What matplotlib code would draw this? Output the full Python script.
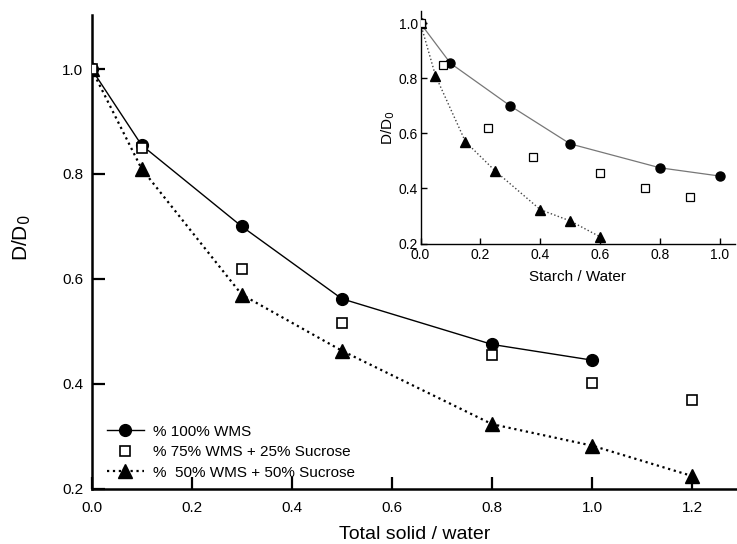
import matplotlib
matplotlib.use("Agg")
import matplotlib.pyplot as plt

plt.rcParams['font.family'] = ['Liberation Sans', 'DejaVu Sans']

# Main plot data (Total solid / water)
x_wms100 = [0.0, 0.1, 0.3, 0.5, 0.8, 1.0]
y_wms100 = [1.0, 0.855, 0.70, 0.562, 0.475, 0.445]

x_wms75 = [0.0, 0.1, 0.3, 0.5, 0.8, 1.0, 1.2]
y_wms75 = [1.0, 0.850, 0.619, 0.515, 0.455, 0.402, 0.370]

x_wms50 = [0.0, 0.1, 0.3, 0.5, 0.8, 1.0, 1.2]
y_wms50 = [1.0, 0.810, 0.570, 0.463, 0.323, 0.282, 0.224]

# Inset data (Starch / Water)
xs_wms100 = [0.0, 0.1, 0.3, 0.5, 0.8, 1.0]
xs_wms75 = [0.0, 0.075, 0.225, 0.375, 0.6, 0.75, 0.9]
xs_wms50 = [0.0, 0.05, 0.15, 0.25, 0.4, 0.5, 0.6]

labels = ["% 100% WMS", "% 75% WMS + 25% Sucrose", "%  50% WMS + 50% Sucrose"]
xticks_main = [0.0, 0.2, 0.4, 0.6, 0.8, 1.0, 1.2]
yticks_main = [0.2, 0.4, 0.6, 0.8, 1.0]
xticks_inset = [0.0, 0.2, 0.4, 0.6, 0.8, 1.0]

W, H = 737, 544
fig = plt.figure(figsize=(W / 100, H / 100), dpi=100)

# main axes in pixel coordinates
l, r, b, t = 91.5, 737, 488.7, 15
ax = fig.add_axes([l / W, 1 - b / H, (r - l) / W, (b - t) / H])

ax.plot(x_wms100, y_wms100, '-', color='black', lw=1.0, marker='o', ms=8.5,
        mfc='black', mec='black', label=labels[0], zorder=3)
ax.plot(x_wms75, y_wms75, 'none', marker='s', ms=7.5, mfc='white', mec='black',
        mew=1.2, label=labels[1], zorder=4)
ax.plot(x_wms50, y_wms50, ':', color='black', lw=1.6, marker='^', ms=9.5,
        mfc='black', mec='black', label=labels[2], zorder=3)

ax.set_xlim(0, 1.289)
ax.set_ylim(0.2, 1.103)
ax.set_xticks(xticks_main)
ax.set_yticks(yticks_main)
ax.set_xticklabels([f"{v:.1f}" for v in xticks_main])
ax.set_yticklabels([f"{v:.1f}" for v in yticks_main])
for s in ['top', 'right']:
    ax.spines[s].set_visible(False)
for s in ['left', 'bottom']:
    ax.spines[s].set_linewidth(1.8)
ax.tick_params(direction='in', length=9, width=1.6, labelsize=11)
ax.tick_params(axis='x', pad=9)
ax.tick_params(axis='y', pad=6)
ax.set_xlabel("Total solid / water", fontsize=14, labelpad=8)
ax.set_ylabel("D/D$_0$", fontsize=15)
ax.yaxis.set_label_coords(-0.09, 0.53)

leg = ax.legend(loc='lower left', bbox_to_anchor=(0.01, 0.0), frameon=False,
                fontsize=11, handlelength=2.4, handletextpad=0.6,
                labelspacing=0.42, borderaxespad=0.2)

# inset axes
il, ir, ib, it = 420.5, 735, 243.5, 11
ax2 = fig.add_axes([il / W, 1 - ib / H, (ir - il) / W, (ib - it) / H])
ax2.plot(xs_wms100, y_wms100, '-', color='#777777', lw=0.9, zorder=2)
ax2.plot(xs_wms100, y_wms100, 'none', marker='o', ms=6.5, mfc='black', mec='black', zorder=3)
ax2.plot(xs_wms75, y_wms75, 'none', marker='s', ms=5.5, mfc='white', mec='black',
         mew=0.9, zorder=4)
ax2.plot(xs_wms50, y_wms50, ':', color='#444444', lw=1.0, zorder=2)
ax2.plot(xs_wms50, y_wms50, 'none', marker='^', ms=7, mfc='black', mec='black', zorder=3)
ax2.set_xlim(0, 1.05)
ax2.set_ylim(0.2, 1.045)
ax2.set_xticks(xticks_inset)
ax2.set_yticks(yticks_main)
ax2.set_xticklabels([f"{v:.1f}" for v in xticks_inset])
ax2.set_yticklabels([f"{v:.1f}" for v in yticks_main])
for s in ['top', 'right']:
    ax2.spines[s].set_visible(False)
for s in ['left', 'bottom']:
    ax2.spines[s].set_linewidth(1.0)
ax2.tick_params(direction='in', length=4, width=1.0, labelsize=10)
ax2.tick_params(axis='x', pad=3)
ax2.tick_params(axis='y', pad=2)
ax2.set_xlabel("Starch / Water", fontsize=11, labelpad=6)
ax2.set_ylabel("D/D$_0$", fontsize=11, labelpad=1)
ax2.patch.set_alpha(0)

fig.savefig("out.png", dpi=100)
